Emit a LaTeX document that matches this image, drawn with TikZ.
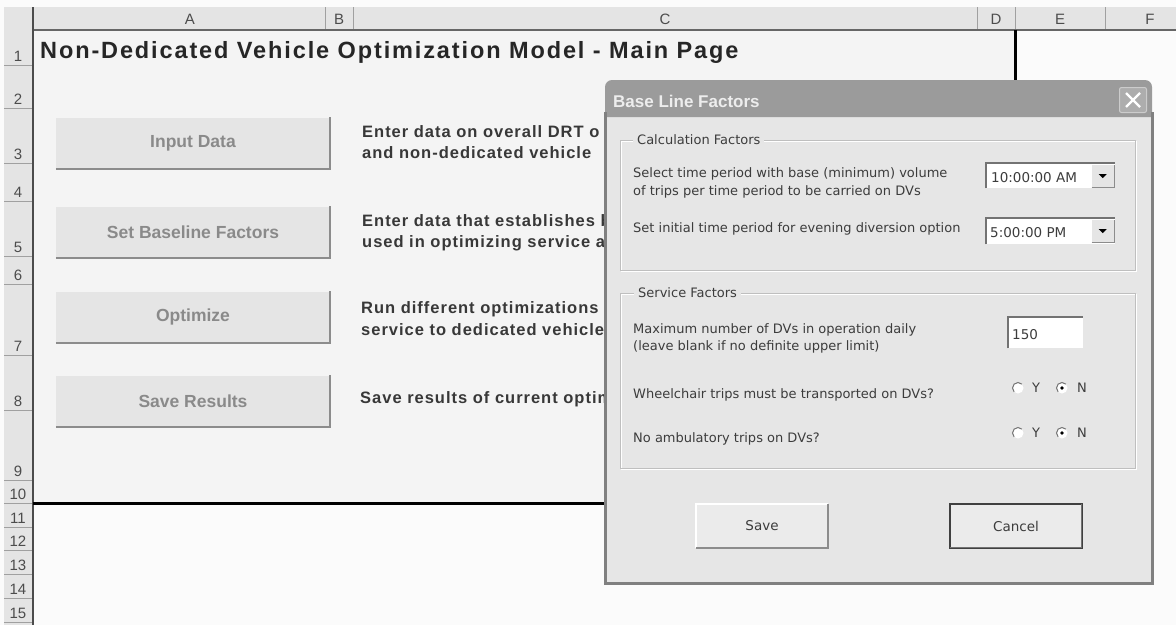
\documentclass[tikz,border=0pt]{standalone}
\usepackage{fontspec}
\setmainfont{Liberation Sans}
\newfontfamily\dlgfont{DejaVu Sans}
\newfontfamily\descfont{Liberation Sans}[LetterSpace=6]
\newfontfamily\titlefont{Liberation Sans}[LetterSpace=8]
\definecolor{sheetbg}{HTML}{F4F4F4}
\definecolor{hdrbg}{HTML}{E4E4E4}
\definecolor{gridgray}{HTML}{A0A0A0}
\definecolor{btnface}{HTML}{E5E5E5}
\definecolor{btnedge}{HTML}{8C8C8C}
\definecolor{btnink}{HTML}{8A8A8A}
\definecolor{descink}{HTML}{383838}
\definecolor{dlgface}{HTML}{E6E6E6}
\definecolor{dlgbar}{HTML}{9B9B9B}
\definecolor{dlgink}{HTML}{3C3C3C}
\begin{document}
\begin{tikzpicture}[x=1pt,y=-1pt,
  hdrlabel/.style={font=\fontsize{15}{15}\selectfont, text=black!70},
  rowlabel/.style={hdrlabel, anchor=south},
  sheetbtn/.style={fill=btnface, minimum width=274pt, minimum height=51pt, inner sep=0pt,
    font=\fontsize{17.5}{18}\selectfont\bfseries, text=btnink},
  btnshadow/.style={btnedge, line width=2pt},
  desc/.style={anchor=base west, inner sep=0pt, font=\descfont\fontsize{16.5}{20}\selectfont\bfseries, text=descink},
  dlgtext/.style={anchor=base west, inner sep=0pt, font=\dlgfont\fontsize{13}{14}\selectfont, text=dlgink},
  legend/.style={dlgtext, anchor=west, fill=dlgface, inner xsep=4pt, inner ysep=1pt},
  etched/.style={draw=black!25},
  field/.style={fill=white, inner sep=0pt, anchor=north west},
  sunken/.style={black!55, line width=1.2pt},
  dropbtn/.style={fill=black!10, minimum width=22pt, minimum height=22pt, inner sep=0pt, anchor=north east},
  radio/.style={circle, fill=white, minimum size=11pt, inner sep=0pt},
  dlgbtn/.style={fill=black!8, minimum width=132pt, minimum height=44pt, inner sep=0pt,
    font=\dlgfont\fontsize{13.5}{14}\selectfont, text=dlgink}]

\useasboundingbox (0,0) rectangle (1176,625);
\fill[white!98.5!black] (0,0) rectangle (1176,625);
\fill[hdrbg] (4,7) rectangle (1176,30);
\fill[hdrbg] (4,7) rectangle (33,625);
\fill[sheetbg] (33,30) rectangle (1015,503);
\foreach \x in {33,325,353,977,1015,1105}
  \draw[gridgray] (\x,7) -- (\x,30);
\foreach \y in {65,108,163,201,256,284,355,410,480,503,527,550,574,598,622}
  \draw[gridgray] (4,\y) -- (33,\y);
\draw[black!60, line width=1.5pt] (33,30) -- (1176,30);
\draw[black!70, line width=1.5pt] (33,7) -- (33,625);
\draw[line width=3pt] (1015,30) -- (1015,503) -- (33,503);

\foreach \x/\l in {190/A,339/B,665/C,996/D,1060/E,1150/F}
  \node[hdrlabel] (col\l) at (\x,19) {\l};
\foreach \y/\l in {65/1,108/2,163/3,201/4,256/5,284/6,355/7,410/8,480/9,503/10,527/11,550/12,574/13,598/14,622/15}
  \node[rowlabel] (row\l) at (18,\y) {\l};

\node[anchor=base west, inner sep=0pt, font=\titlefont\fontsize{23.5}{24}\selectfont\bfseries, text=black!85] (pagetitle) at (40,58) {Non-Dedicated Vehicle Optimization Model - Main Page};

\node[sheetbtn] (inputbtn) at (193,143) {Input Data};
\node[sheetbtn] (baselinebtn) at (193,232) {Set Baseline Factors};
\node[sheetbtn] (optimizebtn) at (193,317) {Optimize};
\node[sheetbtn] (resultsbtn) at (193,401) {Save Results};
\foreach \b in {inputbtn,baselinebtn,optimizebtn,resultsbtn}
  \draw[btnshadow] (\b.south west) -- (\b.south east) -- (\b.north east);

\node[desc] (inputdesca) at (362,137) {Enter data on overall DRT o};
\node[desc] (inputdescb) at (362,158) {and non-dedicated vehicle};
\node[desc] (baselinedesca) at (362,226) {Enter data that establishes b};
\node[desc] (baselinedescb) at (362,247) {used in optimizing service a};
\node[desc] (optimizedesca) at (361,313) {Run different optimizations t};
\node[desc] (optimizedescb) at (361,335) {service to dedicated vehicle};
\node[desc] (resultsdesc) at (360,403) {Save results of current optim};

\fill[dlgface] (605,110) rectangle (1152,583);
\fill[dlgbar, rounded corners=7pt] (605,117) -- (605,80) -- (1152,80) -- (1152,117);
\draw[black!50, line width=3pt] (605,112) -- (605,583) -- (1152,583) -- (1152,112);
\node[anchor=base west, inner sep=0pt, font=\fontsize{17}{18}\selectfont\bfseries, text=white!93!black] (dlgtitle) at (613,107) {Base Line Factors};
\node[draw=white!80!black, fill=black!32, minimum width=27pt, minimum height=25pt, inner sep=0pt, rounded corners=2pt, line width=1pt] (closebtn) at (1133,100) {};
\draw[white, line width=2.2pt] ([shift={(-7,-7)}]closebtn.center) -- ([shift={(7,7)}]closebtn.center);
\draw[white, line width=2.2pt] ([shift={(-7,7)}]closebtn.center) -- ([shift={(7,-7)}]closebtn.center);

\draw[white] (621,141) rectangle (1136,271);
\draw[etched] (620,140) rectangle (1135,270);
\node[legend] (calclegend) at (633,140) {Calculation Factors};
\draw[white] (621,294) rectangle (1136,469);
\draw[etched] (620,293) rectangle (1135,468);
\node[legend] (servlegend) at (634,293) {Service Factors};

\node[dlgtext] (basetexta) at (633,177) {Select time period with base (minimum) volume};
\node[dlgtext] (basetextb) at (633,195) {of trips per time period to be carried on DVs};
\node[dlgtext] (eveningtext) at (633,232) {Set initial time period for evening diversion option};
\node[dlgtext] (dvmaxtexta) at (633,333) {Maximum number of DVs in operation daily};
\node[dlgtext] (dvmaxtextb) at (633,350) {(leave blank if no definite upper limit)};
\node[dlgtext] (wctext) at (633,398) {Wheelchair trips must be transported on DVs?};
\node[dlgtext] (ambtext) at (633,442) {No ambulatory trips on DVs?};

\node[field, minimum width=129pt, minimum height=25pt] (basecombo) at (986,163) {};
\node[field, minimum width=129pt, minimum height=26pt] (eveningcombo) at (986,218) {};
\node[field, minimum width=75pt, minimum height=31pt] (dvmax) at (1008,317) {};
\foreach \c in {basecombo,eveningcombo,dvmax}
  \draw[sunken] (\c.south west) |- (\c.north east);
\foreach \c in {basecombo,eveningcombo} {
  \node[dropbtn] (\c drop) at ([shift={(-1.5,1.5)}]\c.north east) {};
  \draw[black!45] (\c drop.south west) -| (\c drop.north east);
  \fill ([shift={(-4,-1.5)}]\c drop.center) -- ([shift={(4,-1.5)}]\c drop.center) -- ([shift={(0,2.5)}]\c drop.center) -- cycle;
}
\node[dlgtext, font=\dlgfont\fontsize{13.5}{14}\selectfont] (basetime) at (991,182) {10:00:00 AM};
\node[dlgtext, font=\dlgfont\fontsize{13.5}{14}\selectfont] (eveningtime) at (990,237) {5:00:00 PM};
\node[dlgtext, font=\dlgfont\fontsize{13.5}{14}\selectfont] (dvmaxval) at (1012,339) {150};

\foreach \r/\y in {wc/388,amb/433} {
  \node[radio] (\r-y) at (1018,\y) {};
  \node[radio] (\r-n) at (1062,\y) {};
  \node[dlgtext, anchor=west] (\r-ylab) at (1032,\y) {Y};
  \node[dlgtext, anchor=west] (\r-nlab) at (1077,\y) {N};
  \fill (\r-n) circle (1.8);
}
\foreach \n in {wc-y,wc-n,amb-y,amb-n}
  \draw[black!55, line width=1pt] (\n.center) ++(315:5.5) arc[start angle=315, end angle=135, radius=5.5];

\node[dlgbtn] (savebtn) at (762,526) {Save};
\draw[white, line width=1.5pt] (savebtn.south west) |- (savebtn.north east);
\draw[black!45, line width=1.5pt] (savebtn.south west) -| (savebtn.north east);
\node[dlgbtn, draw=black!75, line width=1.2pt] (cancelbtn) at (1016,526) {Cancel};
\draw[black!55, line width=1.5pt] ([shift={(1,-1)}]cancelbtn.south west) -| ([shift={(-1,1)}]cancelbtn.north east);
\end{tikzpicture}
\end{document}
